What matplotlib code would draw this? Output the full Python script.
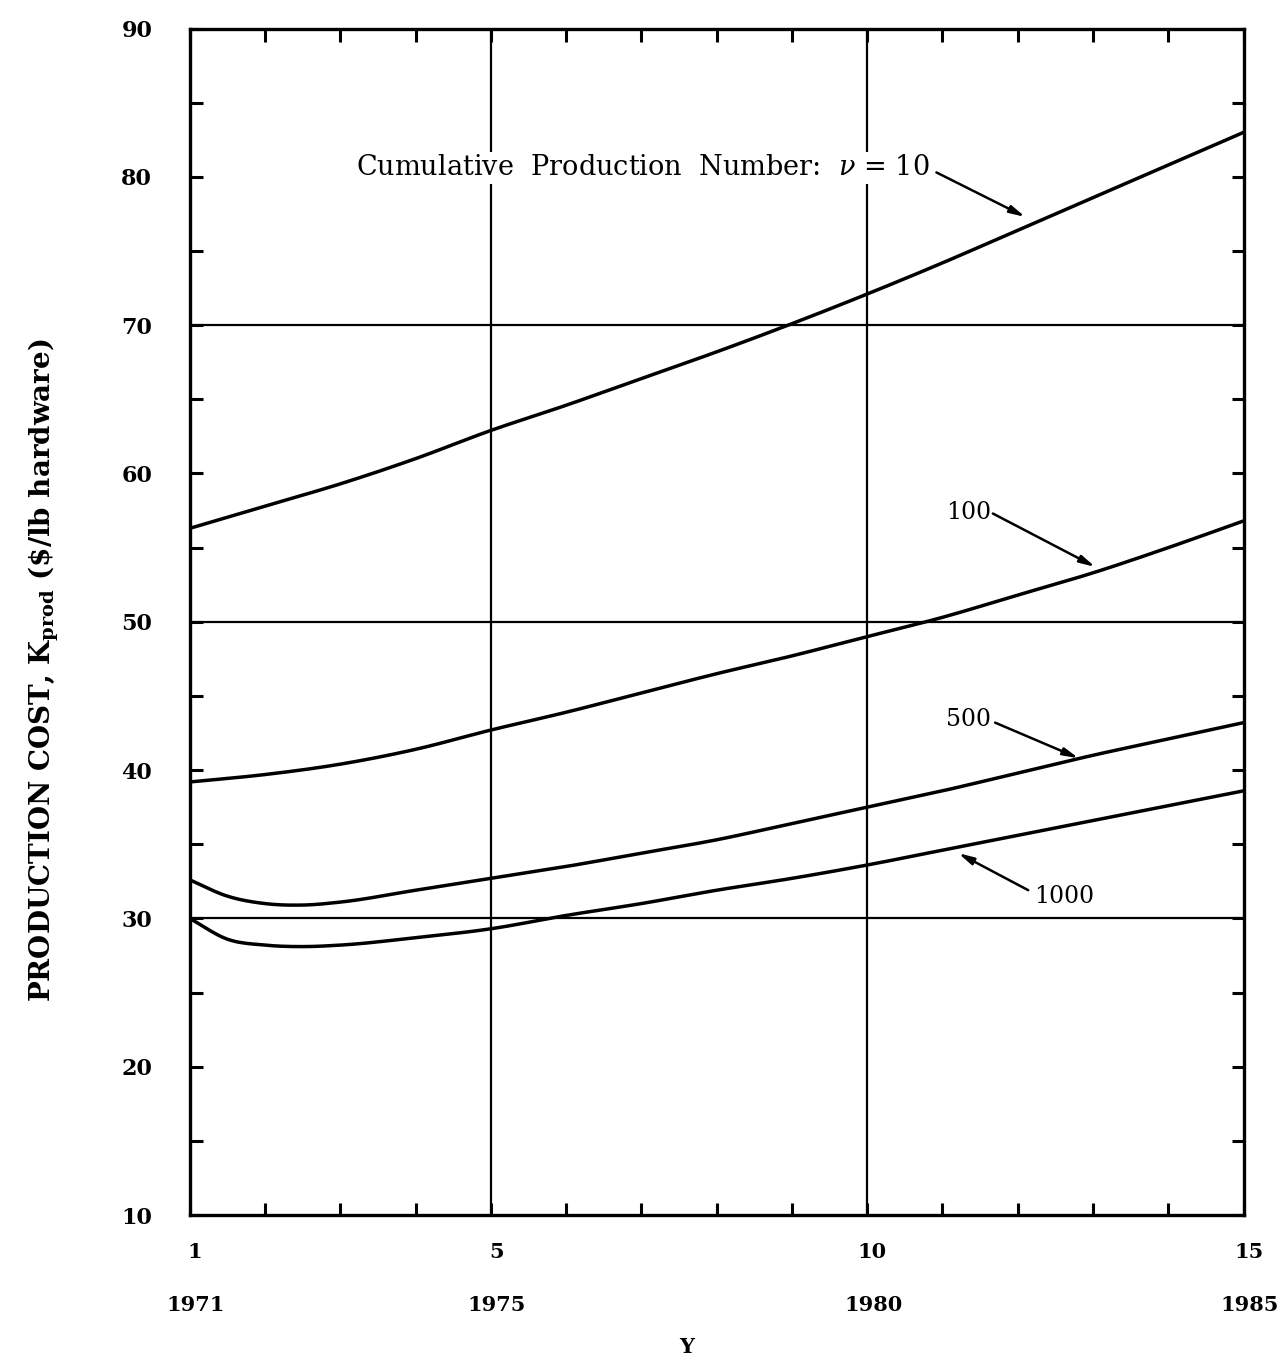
import numpy as np
import matplotlib.pyplot as plt
from matplotlib.ticker import MultipleLocator

plt.rcParams['font.family'] = 'DejaVu Serif'
plt.rcParams['mathtext.fontset'] = 'dejavuserif'

# year index and calendar year
yr_idx = [1, 2, 3, 4, 5, 6, 7, 8, 9, 10, 11, 12, 13, 14, 15]
x_labels = [1, 5, 10, 15]
year_labels = ["1971", "1975", "1980", "1985"]

# production cost, $/lb hardware, for each cumulative production number
cost_10 = [56.3, 57.8, 59.3, 61.0, 62.9, 64.6, 66.4, 68.2, 70.1, 72.1, 74.2, 76.4, 78.6, 80.8, 83.0]
cost_100 = [39.2, 39.7, 40.4, 41.4, 42.7, 43.9, 45.2, 46.5, 47.7, 49.0, 50.3, 51.8, 53.3, 55.0, 56.8]
x_low = [1, 1.5, 2, 2.5, 3, 4, 5, 6, 7, 8, 9, 10, 11, 12, 13, 14, 15]
cost_500 = [32.6, 31.5, 31.0, 30.9, 31.1, 31.9, 32.7, 33.5, 34.4, 35.3, 36.4, 37.5, 38.6, 39.8, 41.0, 42.1, 43.2]
cost_1000 = [30.0, 28.6, 28.2, 28.1, 28.2, 28.7, 29.3, 30.2, 31.0, 31.9, 32.7, 33.6, 34.6, 35.6, 36.6, 37.6, 38.6]

fig = plt.figure(figsize=(12.82, 13.6), dpi=100)
ax = fig.add_axes([0.148, 0.1066, 0.822, 0.8724])

# only a few grid lines on this sheet
for gx in [5, 10]:
    ax.axvline(gx, color="k", lw=1.6, zorder=1)
for gy in [30, 50, 70]:
    ax.axhline(gy, color="k", lw=1.6, zorder=1)

def smooth(x, y, n=300):
    # piecewise cubic hermite through the points
    x = np.asarray(x, float)
    y = np.asarray(y, float)
    xs = np.linspace(x[0], x[-1], n)
    m = np.gradient(y, x)
    idx = np.clip(np.searchsorted(x, xs) - 1, 0, len(x) - 2)
    h = x[idx + 1] - x[idx]
    t = (xs - x[idx]) / h
    h00 = 2*t**3 - 3*t**2 + 1
    h10 = t**3 - 2*t**2 + t
    h01 = -2*t**3 + 3*t**2
    h11 = t**3 - t**2
    ys = h00*y[idx] + h10*h*m[idx] + h01*y[idx+1] + h11*h*m[idx+1]
    return xs, ys

for xx, yy in [(yr_idx, cost_10), (yr_idx, cost_100), (x_low, cost_500), (x_low, cost_1000)]:
    xs, ys = smooth(xx, yy)
    ax.plot(xs, ys, color="k", lw=2.5, solid_capstyle="round", zorder=3)

ax.set_xlim(1, 15)
ax.set_ylim(10, 90)

for s in ax.spines.values():
    s.set_linewidth(2.4)

ax.xaxis.set_major_locator(MultipleLocator(1))
ax.yaxis.set_major_locator(MultipleLocator(10))
ax.yaxis.set_minor_locator(MultipleLocator(5))
ax.tick_params(which="both", direction="in", top=True, right=True, width=2.2, length=9)
ax.tick_params(axis="x", labelbottom=False)
ax.tick_params(axis="y", which="major", pad=27, labelsize=16)
ax.set_yticks(range(10, 91, 10))
ax.set_yticklabels([str(v) for v in range(10, 91, 10)], fontweight="bold")

# two rows of x labels: year index, then calendar year
for xi, yl in zip(x_labels, year_labels):
    ax.text(xi + 0.07, 7.5, str(xi), ha="center", va="center", fontsize=15, fontweight="bold")
    ax.text(xi + 0.08, 3.9, yl, ha="center", va="center", fontsize=15, fontweight="bold")
ax.text(7.6, 1.1, "Y", ha="center", va="center", fontsize=15, fontweight="bold")

ax.set_ylabel(r"PRODUCTION COST, K$_{\mathregular{prod}}$ (\$/lb hardware)",
              fontweight="bold", fontsize=20)
ax.yaxis.set_label_coords(-0.122, 0.459)

# curve labels with leader arrows
box = dict(facecolor="white", edgecolor="none", pad=2)
arrow = dict(arrowstyle="-|>,head_length=0.9,head_width=0.22", color="k", lw=1.8,
             shrinkA=0, shrinkB=0)

ax.text(10.83, 80.6, r"Cumulative  Production  Number:  $\nu$ = 10", ha="right", va="center",
        fontsize=19.5, bbox=box, zorder=4)
ax.annotate("", xy=(12.1, 77.3), xytext=(10.92, 80.3), arrowprops=arrow, zorder=4)

ax.text(11.65, 57.4, "100", ha="right", va="center", fontsize=17, zorder=4)
ax.annotate("", xy=(13.03, 53.7), xytext=(11.67, 57.3), arrowprops=arrow, zorder=4)

ax.text(11.65, 43.4, "500", ha="right", va="center", fontsize=17, zorder=4)
ax.annotate("", xy=(12.81, 40.8), xytext=(11.7, 43.2), arrowprops=arrow, zorder=4)

ax.text(12.22, 31.5, "1000", ha="left", va="center", fontsize=17, zorder=4)
ax.annotate("", xy=(11.21, 34.4), xytext=(12.14, 31.9), arrowprops=arrow, zorder=4)

fig.savefig("out.png", dpi=100, facecolor="white")
